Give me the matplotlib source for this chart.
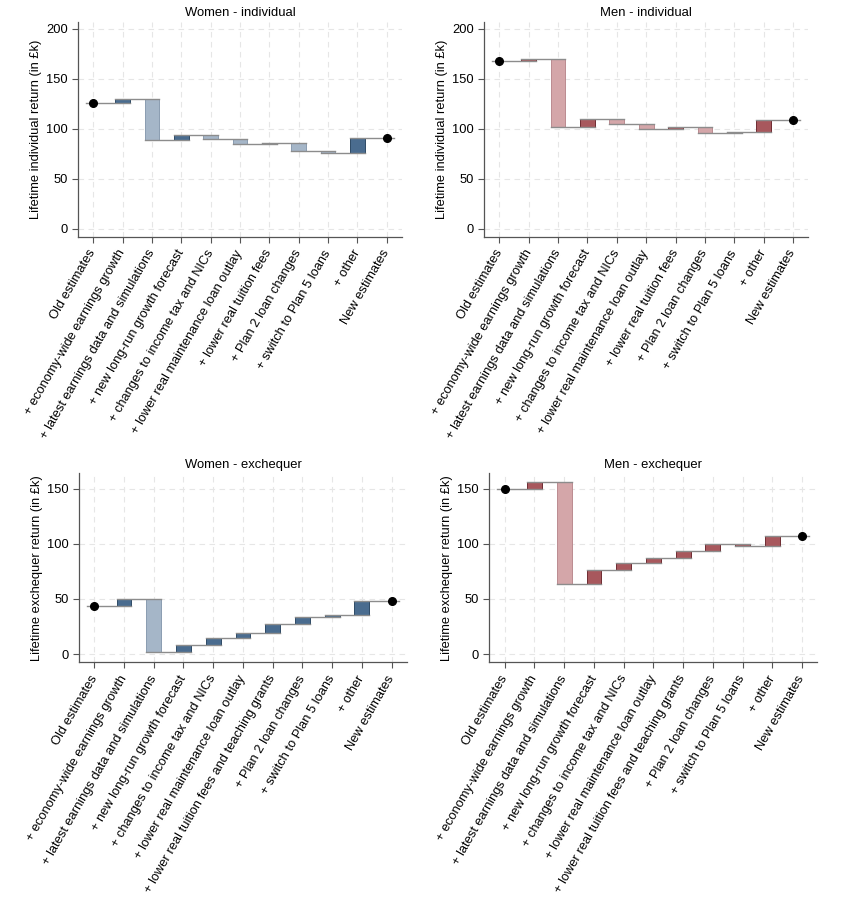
import numpy as np
import matplotlib
matplotlib.use('Agg')
import matplotlib.pyplot as plt

plt.rcParams['font.family'] = ['Liberation Sans', 'DejaVu Sans']

# Category labels
labels_ind = ['Old estimates', '+ economy-wide earnings growth',
              '+ latest earnings data and simulations', '+ new long-run growth forecast',
              '+ changes to income tax and NICs', '+ lower real maintenance loan outlay',
              '+ lower real tuition fees', '+ Plan 2 loan changes',
              '+ switch to Plan 5 loans', '+ other', 'New estimates']
labels_exch = ['Old estimates', '+ economy-wide earnings growth',
               '+ latest earnings data and simulations', '+ new long-run growth forecast',
               '+ changes to income tax and NICs', '+ lower real maintenance loan outlay',
               '+ lower real tuition fees and teaching grants', '+ Plan 2 loan changes',
               '+ switch to Plan 5 loans', '+ other', 'New estimates']

# Old estimate and step changes (in £k)
women_ind_old = 125.5
women_ind_steps = [4.4, -41.5, 5.3, -4.3, -4.4, 0.7, -7.7, -2.6, 15.0]
men_ind_old = 167.6
men_ind_steps = [2.0, -68.1, 8.7, -5.7, -4.3, 2.0, -6.7, 1.7, 11.6]
women_exch_old = 43.5
women_exch_steps = [6.1, -48.1, 7.0, 6.0, 4.5, 7.9, 6.4, 2.4, 12.4]
men_exch_old = 149.7
men_exch_steps = [6.0, -92.2, 12.4, 7.0, 4.5, 6.0, 6.1, -1.5, 8.7]

blue_dark, blue_light = '#4a6c8f', '#a5b6c8'
blue_edge_dark, blue_edge_light = '#2e4a66', '#8a9db1'
red_dark, red_light = '#a8585d', '#d4a6a9'
red_edge_dark, red_edge_light = '#6e2c32', '#bb8b90'

fig = plt.figure(figsize=(8.48, 9.11), dpi=100)


def waterfall(rect, old, steps, labels, title, ylabel, ylim, yticks, pal):
    ax = fig.add_axes(rect)
    levels = np.concatenate([[old], old + np.cumsum(steps)])
    n = len(labels)
    x = np.arange(n)
    w = 0.5
    for i, d in enumerate(steps):
        lo, hi = levels[i], levels[i + 1]
        # big falls shown light, everything else dark
        light = d < -2
        ax.bar(x[i + 1], hi - lo, bottom=lo, width=w,
               color=pal[1] if light else pal[0],
               edgecolor=pal[3] if light else pal[2], linewidth=0.7, zorder=2)
    for i in range(len(levels)):
        ax.plot([x[i] - 0.25, x[i + 1] + 0.25], [levels[i], levels[i]],
                color='#8c8c8c', lw=1.0, zorder=3)
    ax.plot([x[0], x[-1]], [levels[0], levels[-1]], 'o', color='black',
            markersize=5.5, zorder=4)
    ax.set_xlim(-0.52, n - 1 + 0.52)
    ax.set_ylim(*ylim)
    ax.set_yticks(yticks)
    ax.set_xticks(x)
    ax.set_xticklabels(labels, rotation=60, ha='right', va='center',
                       rotation_mode='anchor', fontsize=9.3)
    ax.tick_params(axis='x', pad=6)
    ax.tick_params(axis='y', labelsize=9.3)
    ax.tick_params(length=4, color='#555555', width=0.8)
    ax.grid(True, color='#e6e6e6', linestyle=(0, (5, 4)), linewidth=0.8, zorder=0)
    ax.set_axisbelow(True)
    for s in ['top', 'right']:
        ax.spines[s].set_visible(False)
    for s in ['left', 'bottom']:
        ax.spines[s].set_color('#555555')
        ax.spines[s].set_linewidth(0.9)
    ax.set_title(title, fontsize=9.4, pad=4)
    ax.set_ylabel(ylabel, fontsize=9.3, labelpad=3)
    return ax


blues = (blue_dark, blue_light, blue_edge_dark, blue_edge_light)
reds = (red_dark, red_light, red_edge_dark, red_edge_light)

waterfall([0.092, 0.740, 0.382, 0.236], women_ind_old, women_ind_steps, labels_ind,
          'Women - individual', 'Lifetime individual return (in £k)',
          (-8.3, 207), [0, 50, 100, 150, 200], blues)
waterfall([0.571, 0.740, 0.382, 0.236], men_ind_old, men_ind_steps, labels_ind,
          'Men - individual', 'Lifetime individual return (in £k)',
          (-8.3, 207), [0, 50, 100, 150, 200], reds)
waterfall([0.093, 0.273, 0.387, 0.2075], women_exch_old, women_exch_steps, labels_exch,
          'Women - exchequer', 'Lifetime exchequer return (in £k)',
          (-7.5, 164), [0, 50, 100, 150], blues)
waterfall([0.577, 0.273, 0.387, 0.2075], men_exch_old, men_exch_steps, labels_exch,
          'Men - exchequer', 'Lifetime exchequer return (in £k)',
          (-7.5, 164), [0, 50, 100, 150], reds)

fig.savefig('out.png', dpi=100, facecolor='white')
